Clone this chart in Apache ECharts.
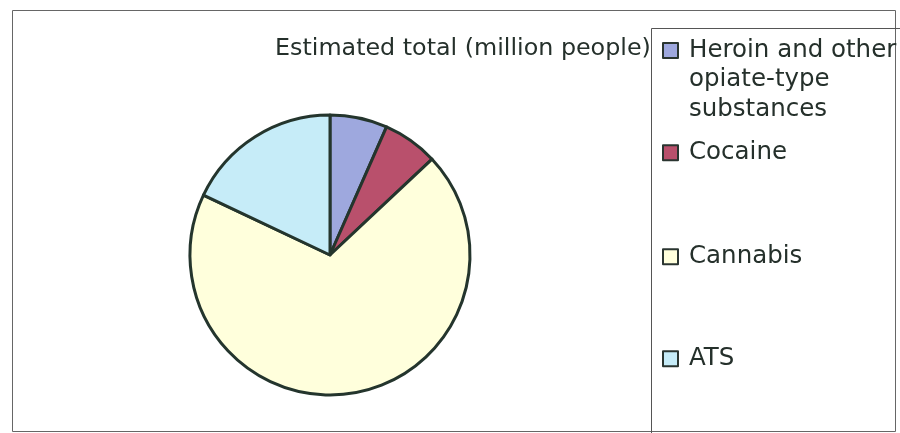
<!DOCTYPE html>
<html>
<head>
<meta charset="utf-8">
<script src="https://cdn.jsdelivr.net/npm/echarts@6/dist/echarts.min.js"></script>
<style>
html,body{margin:0;padding:0;background:#fff;}
#chart{width:900px;height:433px;}
</style>
</head>
<body>
<div id="chart"></div>
<script>
// Data
var titleText = 'Estimated total (million people)';
var categories = ['Heroin and other opiate-type substances', 'Cocaine', 'Cannabis', 'ATS'];
var legendLabels = ['{f|Heroin and other}\n{f|opiate-type}\n{f|substances}', 'Cocaine', 'Cannabis', 'ATS'];
var values = [14, 13.5, 146, 38];
var colors = ['#9ea8de', '#b9506c', '#ffffdc', '#c6ecf8'];

var FONT = 'DejaVu Sans';
var TXT = '#25302b';
var FS = 24.5, LH = 29.5;
var chart = echarts.init(document.getElementById('chart'), null, {renderer: 'canvas'});

var legendTops = [-21, 138, 242, 344];
var legends = categories.map(function (c, i) {
  return {
    orient: 'vertical',
    left: 662,
    top: legendTops[i],
    padding: 0,
    itemWidth: 15,
    itemHeight: 15,
    icon: 'rect',
    selectedMode: false,
    data: [c],
    formatter: function () { return legendLabels[i]; },
    itemStyle: {borderColor: '#2a3530', borderWidth: 2},
    textStyle: {
      fontFamily: FONT, fontSize: FS, color: TXT,
      lineHeight: LH,
      padding: [0, 0, 0, 6],
      rich: {
        f: {fontFamily: FONT, fontSize: FS, color: TXT, lineHeight: LH, padding: [2 * LH, 0, 0, 0]}
      }
    }
  };
});

var option = {
  backgroundColor: '#ffffff',
  animation: false,
  title: {
    text: titleText,
    left: 275,
    top: 35,
    padding: 0,
    textStyle: {fontFamily: FONT, fontSize: 23.8, fontWeight: 'normal', color: TXT, lineHeight: 28}
  },
  legend: legends,
  graphic: [
    {type: 'rect', shape: {x: 12.5, y: 10.5, width: 883, height: 421}, style: {fill: 'none', stroke: '#666', lineWidth: 1}, silent: true, z: -1},
    {type: 'rect', shape: {x: 651.5, y: 28.5, width: 260, height: 420}, style: {fill: 'none', stroke: '#555', lineWidth: 1}, silent: true, z: -1}
  ],
  series: [{
    type: 'pie',
    center: [330, 255],
    radius: [0, 140],
    startAngle: 90,
    clockwise: true,
    label: {show: false},
    labelLine: {show: false},
    emphasis: {disabled: true},
    itemStyle: {borderColor: '#24352d', borderWidth: 3},
    data: categories.map(function (c, i) {
      return {name: c, value: values[i], itemStyle: {color: colors[i]}};
    })
  }]
};
chart.setOption(option);
</script>
</body>
</html>
